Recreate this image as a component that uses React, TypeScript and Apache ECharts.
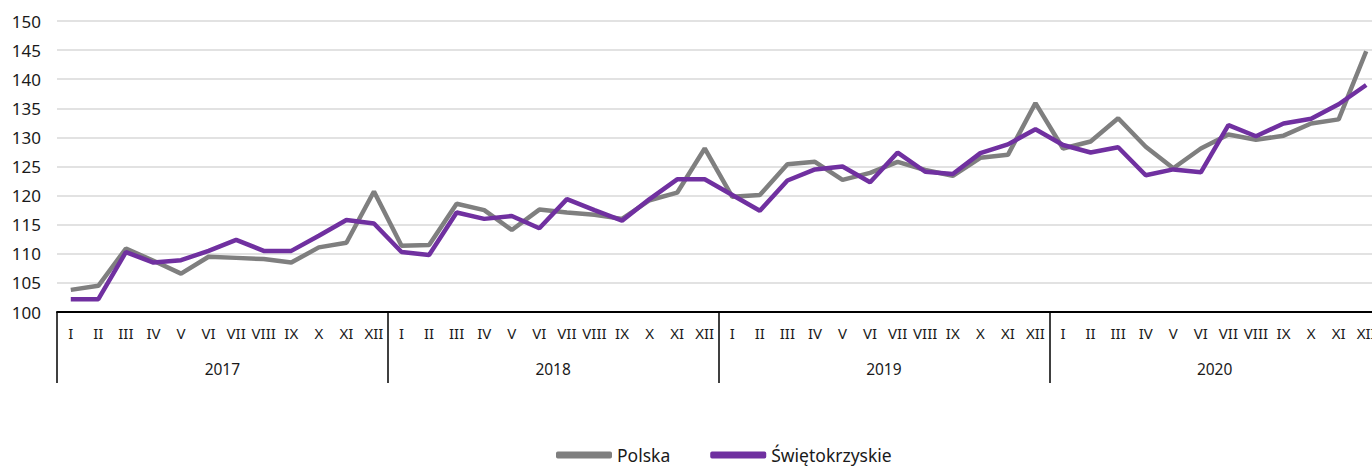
import React, { useEffect, useRef } from "react";
import * as echarts from "echarts";

const months = ["I", "II", "III", "IV", "V", "VI", "VII", "VIII", "IX", "X", "XI", "XII"];
const years = ["2017", "2018", "2019", "2020"];
const categories: string[] = years.flatMap(() => months);

const polska = [
  103.8, 104.5, 110.9, 108.8, 106.6, 109.5, 109.3, 109.1, 108.5, 111.1, 111.9, 120.7,
  111.4, 111.5, 118.6, 117.5, 114.1, 117.6, 117.1, 116.7, 116.0, 119.2, 120.5, 128.1,
  119.8, 120.1, 125.4, 125.8, 122.7, 123.9, 125.8, 124.4, 123.4, 126.5, 127.0, 135.9,
  128.1, 129.3, 133.3, 128.4, 124.7, 128.1, 130.5, 129.6, 130.3, 132.4, 133.1, 144.8,
];
const swietokrzyskie = [
  102.2, 102.2, 110.3, 108.5, 108.9, 110.5, 112.4, 110.5, 110.5, 113.1, 115.8, 115.2,
  110.3, 109.8, 117.1, 116.0, 116.5, 114.4, 119.4, 117.5, 115.7, 119.4, 122.8, 122.8,
  120.1, 117.4, 122.6, 124.5, 125.0, 122.3, 127.4, 124.1, 123.7, 127.3, 128.8, 131.4,
  128.7, 127.4, 128.3, 123.5, 124.5, 124.0, 132.1, 130.2, 132.4, 133.2, 135.7, 139.0,
];

const FONT = "Noto Sans";

export default function App() {
  const ref = useRef<HTMLDivElement>(null);
  useEffect(() => {
    if (!ref.current) return;
    const chart = echarts.init(ref.current, undefined, { renderer: "svg" });
    chart.setOption({
      animation: false,
      textStyle: { fontFamily: FONT },
      grid: { left: 57, right: 0, top: 21, bottom: 154, containLabel: false },
      legend: {
        top: 441,
        left: 551,
        icon: "roundRect",
        itemWidth: 56,
        itemHeight: 7,
        itemGap: 40,
        textStyle: { fontFamily: FONT, fontSize: 17.5, color: "#1a1a1a" },
        data: ["Polska", "Świętokrzyskie"],
      },
      xAxis: [
        {
          type: "category",
          data: categories,
          boundaryGap: true,
          axisLine: { show: true, lineStyle: { color: "#000", width: 2 } },
          axisTick: { show: false },
          axisLabel: { interval: 0, fontSize: 15, color: "#1a1a1a", margin: 13, fontFamily: FONT },
        },
        {
          type: "category",
          data: years,
          position: "bottom",
          boundaryGap: true,
          axisLine: { show: false },
          axisTick: { show: true, length: 71, lineStyle: { color: "#000", width: 1.5 } },
          axisLabel: { interval: 0, fontSize: 15.5, color: "#1a1a1a", margin: 49, fontFamily: FONT },
        },
      ],
      yAxis: {
        type: "value",
        min: 100,
        max: 150,
        interval: 5,
        axisLine: { show: false },
        axisTick: { show: false },
        axisLabel: { fontSize: 17, color: "#1a1a1a", margin: 16, fontFamily: FONT },
        splitLine: { lineStyle: { color: "#d9d9d9", width: 1.5 } },
      },
      series: [
        {
          name: "Polska",
          type: "line",
          data: polska,
          xAxisIndex: 0,
          symbol: "none",
          lineStyle: { color: "#7f7f7f", width: 4.5 },
          itemStyle: { color: "#7f7f7f" },
          z: 2,
        },
        {
          name: "Świętokrzyskie",
          type: "line",
          data: swietokrzyskie,
          xAxisIndex: 0,
          symbol: "none",
          lineStyle: { color: "#7030a0", width: 4.5 },
          itemStyle: { color: "#7030a0" },
          z: 3,
        },
      ],
    });
    return () => chart.dispose();
  }, []);
  return (
    <div
      style={{
        position: "fixed",
        left: 0,
        top: 0,
        width: 1372,
        height: 466,
        overflow: "hidden",
        background: "#fff",
      }}
    >
      <div ref={ref} style={{ width: 1380, height: 466 }} />
    </div>
  );
}
